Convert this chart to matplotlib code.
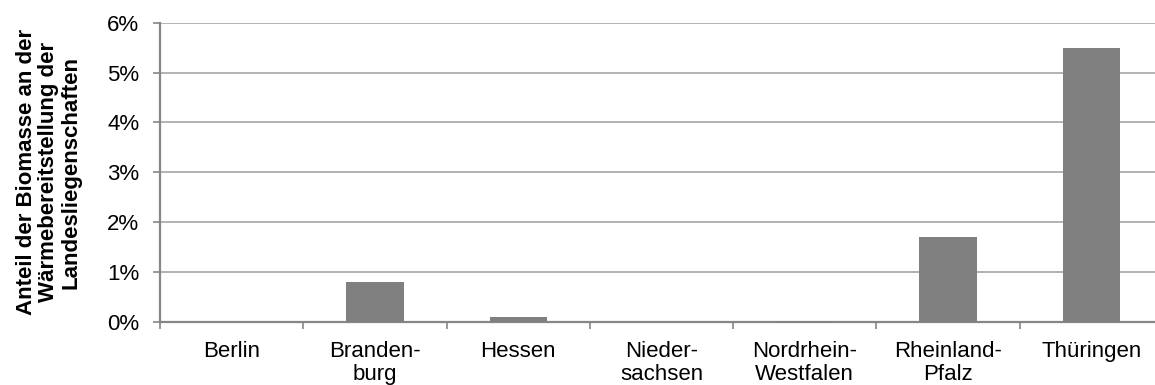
import numpy as np
import matplotlib.pyplot as plt
from matplotlib.ticker import FuncFormatter, FixedLocator

plt.rcParams['font.family'] = ['Liberation Sans', 'DejaVu Sans']

laender = ["Berlin", "Branden-\nburg", "Hessen", "Nieder-\nsachsen",
           "Nordrhein-\nWestfalen", "Rheinland-\nPfalz", "Thüringen"]
anteil = [0.0, 0.8, 0.1, 0.0, 0.02, 1.7, 5.5]  # in %
ylabel_text = "Anteil der Biomasse an der\nWärmebereitstellung der\nLandesliegenschaften"

W, H = 1155, 385
fig = plt.figure(figsize=(W / 100, H / 100), dpi=100)
x0, x1 = 160, 1163
y0, y1 = 322, 22.7
ax = fig.add_axes([x0 / W, (H - y0) / H, (x1 - x0) / W, (y0 - y1) / H])

grey = "#868686"
fs = 16
x = np.arange(len(laender))
ax.bar(x, anteil, width=0.4, color="#808080", zorder=3)

ax.set_xlim(-0.5, len(laender) - 0.5)
ax.set_ylim(0, 6)
ax.set_yticks(np.arange(0, 7, 1))
ax.yaxis.set_major_formatter(FuncFormatter(lambda v, p: f"{v:.0f}%"))
ax.grid(axis="y", color="#a6a6a6", linewidth=1.2, zorder=0)

ax.set_xticks(x)
ax.set_xticklabels(laender, fontsize=fs, linespacing=1.1)
ax.xaxis.set_minor_locator(FixedLocator(np.arange(-0.5, len(laender), 1)))
ax.tick_params(axis="x", which="major", length=0, pad=14)
ax.tick_params(axis="x", which="minor", length=5, color=grey, width=1.2)
ax.tick_params(axis="y", length=5, color=grey, width=1.2, labelsize=fs, pad=10)

for side in ["top", "right"]:
    ax.spines[side].set_visible(False)
for side in ["left", "bottom"]:
    ax.spines[side].set_color(grey)
    ax.spines[side].set_linewidth(1.6)

ax.set_ylabel(ylabel_text, fontsize=fs, fontweight="bold", labelpad=18,
              linespacing=1.1)

fig.savefig("out.png", dpi=100)
